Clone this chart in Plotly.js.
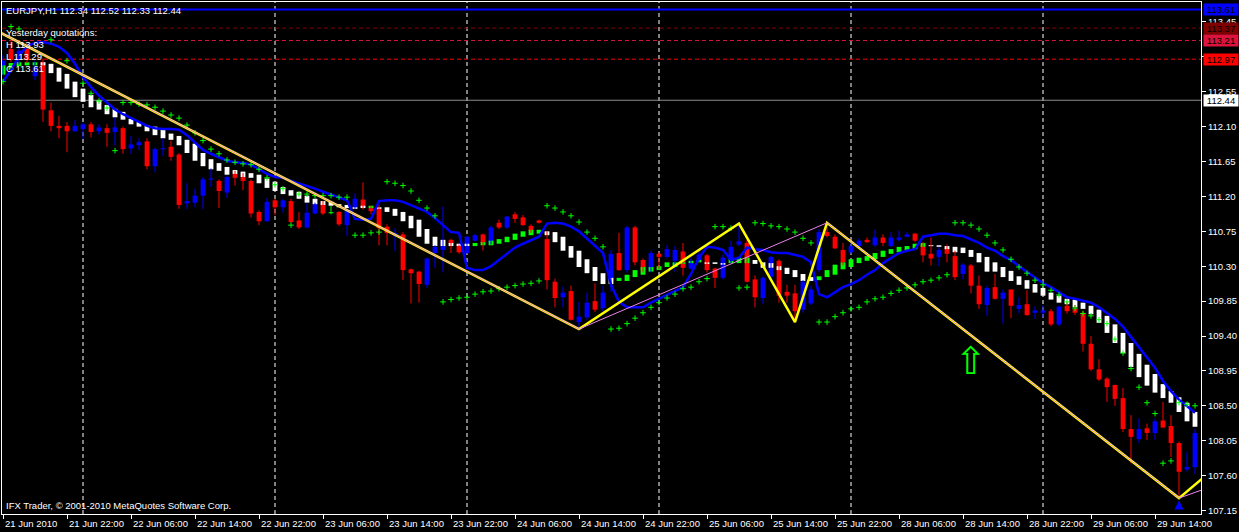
<!DOCTYPE html>
<html><head><meta charset="utf-8">
<script src="https://cdn.plot.ly/plotly-3.0.1.min.js"></script>
<style>html,body{margin:0;padding:0;background:#000;}#chart{width:1239px;height:532px;}</style>
</head><body><div id="chart"></div>
<script>
// ---- time axis (bar index -> label) ----
const timeLabels = ['21 Jun 2010','21 Jun 22:00','22 Jun 06:00','22 Jun 14:00','22 Jun 22:00','23 Jun 06:00','23 Jun 14:00','23 Jun 22:00','24 Jun 06:00','24 Jun 14:00','24 Jun 22:00','25 Jun 06:00','25 Jun 14:00','25 Jun 22:00','28 Jun 06:00','28 Jun 14:00','28 Jun 22:00','29 Jun 06:00','29 Jun 14:00'];
const timeLabelIdx = [0,8,16,24,32,40,48,56,64,72,80,88,96,104,112,120,128,136,144];
const dayGridIdx = [10,34,58,82,106,130];
const yTickVals = [107.15,107.60,108.05,108.50,108.95,109.40,109.85,110.30,110.75,111.20,111.65,112.10,112.55,113.00,113.45];
const yTickHidden = [113.00]; // covered by the 112.97 price tag in the original

// ---- EURJPY H1 candles ----
const open = [112.82,113.10,112.96,113.10,112.75,112.93,112.31,112.11,112.11,112.04,
112.07,112.13,112.04,112.08,112.03,112.08,111.82,111.86,111.91,111.59,
111.81,111.84,111.74,111.11,111.12,111.21,111.42,111.40,111.25,111.49,
111.45,111.40,111.00,110.88,111.15,111.06,111.14,110.89,110.80,110.98,
111.11,110.99,111.00,110.83,111.05,111.16,111.05,111.05,110.81,110.70,
110.71,110.26,110.23,110.06,110.47,110.51,110.64,110.57,110.47,110.63,
110.71,110.60,110.86,110.80,110.97,110.93,110.82,110.89,110.65,110.10,
109.90,109.98,109.58,109.64,109.85,109.76,110.12,110.47,110.25,110.80,
110.38,110.25,110.46,110.42,110.37,110.49,110.27,110.36,110.44,110.27,
110.15,110.38,110.58,110.60,110.13,109.89,110.16,110.37,109.97,109.95,
109.74,109.82,110.25,110.74,110.68,110.51,110.48,110.56,110.64,110.57,
110.67,110.56,110.64,110.68,110.72,110.57,110.46,110.42,110.53,110.43,
110.20,110.31,110.05,109.80,110.03,109.88,110.00,109.75,109.81,109.70,
109.70,109.72,109.55,109.79,109.75,109.70,109.30,108.97,108.85,108.77,
108.60,108.20,108.07,108.21,108.15,108.31,108.24,108.02,107.68,107.71];
const high = [113.02,113.20,113.15,113.16,112.95,112.98,112.41,112.24,112.16,112.19,
112.15,112.16,112.13,112.13,112.22,112.10,111.98,111.95,111.95,111.83,
111.95,111.92,111.76,111.37,111.30,111.45,111.56,111.42,111.47,111.53,
111.50,111.42,111.02,111.18,111.17,111.17,111.17,111.00,111.11,111.12,
111.14,111.08,111.01,111.05,111.24,111.38,111.08,111.09,110.84,110.79,
110.74,110.27,110.24,110.41,110.57,111.07,110.65,110.58,110.69,110.72,
110.72,110.82,110.90,110.95,111.00,110.96,110.84,110.90,110.75,110.14,
110.04,110.05,109.84,109.96,110.08,110.05,110.51,110.73,110.82,110.82,
110.40,110.50,110.48,110.57,110.56,110.60,110.42,110.50,110.46,110.28,
110.45,110.63,110.85,110.64,110.18,110.17,110.43,110.39,110.06,110.06,
110.12,110.05,110.78,110.85,110.71,110.60,110.60,110.66,110.67,110.77,
110.71,110.74,110.76,110.74,110.73,110.61,110.67,110.55,110.58,110.50,
110.34,110.33,110.18,110.05,110.20,110.00,110.00,109.90,109.99,109.78,
109.80,109.75,109.79,109.85,109.80,109.72,109.40,109.10,108.87,108.77,
108.73,108.38,108.34,108.27,108.34,108.55,108.38,108.04,107.90,108.20];
const low = [112.76,112.93,112.90,112.92,112.70,112.16,112.04,111.95,111.77,112.03,
111.94,111.96,112.00,111.84,111.86,111.75,111.75,111.80,111.55,111.51,
111.72,111.66,111.04,111.04,111.06,111.04,111.32,111.05,111.18,111.34,
111.28,110.93,110.83,110.87,110.96,110.99,110.86,110.78,110.79,110.97,
110.96,110.97,110.82,110.69,111.04,111.03,110.97,110.57,110.57,110.50,
110.12,109.82,109.83,110.02,110.28,110.22,110.47,110.46,110.46,110.62,
110.50,110.58,110.78,110.78,110.86,110.82,110.73,110.85,110.00,109.77,
109.77,109.60,109.49,109.61,109.71,109.72,109.97,110.24,110.22,110.31,
110.22,110.22,110.26,110.40,110.23,110.18,110.26,110.35,110.22,110.02,
110.13,110.34,110.56,110.09,109.77,109.81,110.13,109.83,109.83,109.58,
109.70,109.80,110.22,110.67,110.52,110.31,110.46,110.54,110.60,110.55,
110.56,110.55,110.62,110.67,110.61,110.35,110.31,110.30,110.35,110.12,
110.13,109.95,109.75,109.66,109.87,109.56,109.63,109.69,109.66,109.62,
109.64,109.53,109.53,109.69,109.67,109.20,108.95,108.82,108.55,108.50,
108.16,107.76,108.02,108.06,108.06,108.22,107.84,107.31,107.65,107.62];
const close = [112.95,112.96,113.08,112.96,112.87,112.32,112.11,112.08,112.04,112.11,
112.13,112.03,112.09,112.02,112.09,111.81,111.87,111.90,111.59,111.81,
111.82,111.71,111.09,111.14,111.21,111.42,111.43,111.27,111.45,111.44,
111.40,110.98,110.88,111.13,111.06,111.15,110.87,110.80,110.99,111.10,
110.98,110.99,110.84,111.03,111.17,111.06,111.01,110.79,110.73,110.73,
110.25,110.21,110.07,110.40,110.55,110.64,110.59,110.48,110.68,110.70,
110.60,110.80,110.80,110.94,110.91,110.83,110.76,110.86,110.12,109.89,
109.96,109.61,109.65,109.83,109.74,109.96,110.46,110.25,110.80,110.35,
110.25,110.47,110.42,110.52,110.51,110.28,110.37,110.45,110.25,110.15,
110.41,110.55,110.62,110.10,109.90,110.15,110.42,109.92,109.92,109.72,
110.10,110.00,110.74,110.69,110.53,110.35,110.56,110.63,110.61,110.67,
110.60,110.67,110.67,110.71,110.63,110.44,110.40,110.51,110.46,110.16,
110.32,110.05,109.81,110.02,109.88,109.96,109.79,109.80,109.67,109.73,
109.73,109.55,109.78,109.72,109.70,109.30,108.97,108.84,108.74,108.59,
108.20,108.10,108.20,108.15,108.30,108.22,108.02,107.65,107.71,108.15];

// ---- smoothed Heiken-Ashi boxes ----
const haOpen = [112.77,112.83,112.88,112.89,112.89,112.93,112.91,112.86,112.78,112.68,
112.59,112.51,112.44,112.38,112.33,112.29,112.20,112.16,112.12,112.10,
112.06,112.01,111.98,111.93,111.88,111.76,111.68,111.63,111.58,111.54,
111.52,111.50,111.48,111.43,111.39,111.32,111.28,111.26,111.21,111.17,
111.14,111.13,111.10,111.09,111.06,111.08,111.05,111.06,111.06,111.04,
111.00,110.95,110.90,110.78,110.68,110.64,110.60,110.59,110.59,110.56,
110.57,110.57,110.59,110.61,110.64,110.68,110.70,110.72,110.75,110.74,
110.68,110.56,110.50,110.39,110.29,110.21,110.15,110.11,110.11,110.16,
110.19,110.23,110.25,110.29,110.29,110.33,110.34,110.35,110.35,110.35,
110.34,110.34,110.34,110.34,110.38,110.35,110.34,110.30,110.28,110.25,
110.20,110.16,110.12,110.16,110.19,110.26,110.29,110.34,110.37,110.39,
110.42,110.46,110.48,110.50,110.52,110.55,110.57,110.57,110.56,110.55,
110.54,110.51,110.47,110.42,110.35,110.29,110.24,110.17,110.12,110.07,
110.02,109.96,109.92,109.88,109.87,109.83,109.79,109.74,109.66,109.55,
109.44,109.31,109.17,109.03,108.91,108.78,108.69,108.61,108.54,108.42];
const haClose = [112.89,112.92,112.93,112.93,112.93,112.89,112.79,112.68,112.59,112.48,
112.42,112.35,112.32,112.26,112.22,112.19,112.13,112.10,112.04,111.99,
111.95,111.93,111.86,111.76,111.66,111.59,111.55,111.53,111.48,111.49,
111.45,111.44,111.37,111.31,111.27,111.23,111.21,111.17,111.12,111.10,
111.09,111.08,111.06,111.05,111.04,111.05,111.08,111.04,111.00,110.95,
110.88,110.79,110.68,110.59,110.56,110.56,110.56,110.56,110.56,110.60,
110.61,110.63,110.65,110.68,110.72,110.75,110.77,110.77,110.70,110.61,
110.50,110.41,110.29,110.21,110.11,110.07,110.07,110.15,110.19,110.25,
110.29,110.29,110.30,110.35,110.35,110.35,110.37,110.38,110.33,110.33,
110.32,110.39,110.41,110.41,110.33,110.28,110.28,110.25,110.20,110.16,
110.11,110.11,110.17,110.25,110.32,110.35,110.39,110.41,110.43,110.47,
110.50,110.52,110.55,110.56,110.59,110.60,110.56,110.55,110.52,110.48,
110.47,110.42,110.35,110.23,110.23,110.16,110.11,110.06,110.01,109.96,
109.92,109.87,109.83,109.81,109.77,109.75,109.68,109.57,109.44,109.31,
109.18,109.00,108.87,108.76,108.67,108.60,108.54,108.42,108.30,108.23];

// ---- blue channel line ----
const channelLine = [112.68,112.83,113.01,113.14,113.18,113.19,113.17,113.13,113.05,112.91,
112.74,112.61,112.50,112.41,112.32,112.26,112.21,112.16,112.11,112.08,
112.07,112.07,112.06,111.99,111.90,111.80,111.75,111.70,111.66,111.64,
111.63,111.61,111.55,111.49,111.45,111.44,111.40,111.37,111.34,111.30,
111.26,111.22,111.18,111.15,110.91,110.90,110.91,111.14,111.15,111.15,
111.13,111.09,111.05,111.00,110.92,110.83,110.74,110.73,110.28,110.25,
110.25,110.30,110.38,110.47,110.54,110.59,110.64,110.68,110.85,110.86,
110.85,110.81,110.75,110.66,110.57,110.47,110.06,109.84,109.77,109.77,
109.77,109.83,109.88,109.93,109.97,110.03,110.20,110.41,110.55,110.54,
110.51,110.38,110.41,110.54,110.52,110.51,110.48,110.47,110.47,110.44,
110.42,110.35,109.94,109.90,109.97,110.03,110.07,110.12,110.19,110.25,
110.34,110.41,110.47,110.50,110.52,110.68,110.70,110.72,110.72,110.70,
110.69,110.65,110.60,110.54,110.50,110.43,110.38,110.30,110.23,110.15,
110.08,110.03,109.96,109.90,109.88,109.85,109.83,109.77,109.70,109.62,
109.52,109.39,109.26,109.12,108.99,108.82,108.69,108.58,108.49,108.41];

// ---- parabolic SAR dots ----
const sar = [112.68,113.39,113.36,null,null,null,113.22,null,112.95,null,
112.66,112.53,112.43,112.34,111.79,112.41,112.41,112.39,112.38,112.35,
112.30,112.25,112.21,112.12,112.02,111.92,111.81,111.75,111.67,111.64,
111.62,111.61,111.55,111.44,111.35,111.30,110.83,111.23,111.23,111.21,
111.21,111.21,111.19,111.19,110.70,110.70,110.73,110.74,111.39,111.37,
111.34,111.27,111.15,111.05,110.95,109.84,109.87,109.89,109.90,109.94,
109.97,109.98,110.01,110.03,110.05,110.07,110.08,110.11,111.08,111.05,
111.00,110.95,110.87,110.74,110.66,110.55,109.49,109.50,109.56,109.63,
109.70,109.77,109.83,109.89,109.94,110.01,110.03,110.10,110.14,110.81,
110.81,110.79,110.02,110.03,110.86,110.85,110.82,110.81,110.78,110.74,
110.66,110.60,109.58,109.58,109.65,109.70,109.75,109.77,109.84,109.88,
109.90,109.95,109.99,110.02,110.06,110.10,110.12,110.15,110.19,110.86,
110.86,110.83,110.78,110.70,110.60,110.51,110.39,110.29,110.21,110.12,
110.06,109.99,109.93,109.84,109.76,109.69,109.66,109.61,109.56,109.36,
109.18,108.98,108.74,108.54,108.40,107.76,107.79,108.54,108.52,108.50];

// ---- zigzag lines ----
const zigzagIdx = [-2,72,92,99,103,147,150];
const zigzagVal = [113.40,109.49,110.85,109.58,110.86,107.31,107.57];
const zigzag2Idx = [-2,72,103,147,150];
const zigzag2Val = [113.40,109.49,110.86,107.31,107.42];

// ---- markers ----
const signalArrowIdx = [121];
const signalArrowVal = [109.03];
const lowMarkIdx = [147];
const lowMarkVal = [107.28];

// ---- horizontal levels ----
const levelVals = [113.61,113.37,113.21,112.97,112.44];
const levelText = ['113.61','113.37','113.21','112.97','112.44'];
const infoLines = ['EURJPY,H1 112.34 112.52 112.33 112.44','Yesterday quotations:','H 113.93','L 113.29','C 113.61'];
const copyright = 'IFX Trader, \u00a9 2001-2010 MetaQuotes Software Corp.';

// ================= drawing =================
const FONT = 'Liberation Sans, Arial, sans-serif';
const BODYW = 0.6, MINH = 0.013;
const idx = open.map((_, i) => i);

function wickTrace(sel, color) {
  const x = [], y = [];
  idx.filter(sel).forEach(i => { x.push(i, i, null); y.push(low[i], high[i], null); });
  return {type:'scatter', mode:'lines', x, y, line:{color, width:1}, hoverinfo:'skip'};
}
function bodyTrace(sel, o, c, color) {
  const ii = idx.filter(sel);
  return {type:'bar', x: ii,
    base: ii.map(i => Math.abs(c[i]-o[i]) < MINH ? (o[i]+c[i])/2 - MINH/2 : Math.min(o[i], c[i])),
    y: ii.map(i => Math.max(Math.abs(c[i]-o[i]), MINH)),
    width: BODYW, marker:{color, line:{width:0}}, hoverinfo:'skip'};
}
const isBull = i => close[i] > open[i], isBear = i => close[i] < open[i], isDoji = i => close[i] === open[i];

const traces = [
  wickTrace(isBull, '#0000FF'), wickTrace(isBear, '#FF0000'), wickTrace(isDoji, '#00FF00'),
  bodyTrace(isBull, open, close, '#0000FF'), bodyTrace(isBear, open, close, '#FF0000'), bodyTrace(isDoji, open, close, '#00FF00'),
  bodyTrace(i => haClose[i] < haOpen[i], haOpen, haClose, '#FFFFFF'),
  bodyTrace(i => haClose[i] >= haOpen[i], haOpen, haClose, '#00FF00'),
  {type:'scatter', mode:'lines', x: idx, y: channelLine, line:{color:'#0000FF', width:2.5}, hoverinfo:'skip'},
  {type:'scatter', mode:'markers', x: idx, y: sar, marker:{symbol:'cross-thin', size:4, color:'#00FF00', line:{color:'#00FF00', width:1}}, hoverinfo:'skip'},
  {type:'scatter', mode:'lines', x: zigzagIdx, y: zigzagVal, line:{color:'#FFFF00', width:2.5}, hoverinfo:'skip'},
  {type:'scatter', mode:'lines', x: zigzag2Idx, y: zigzag2Val, line:{color:'#EE82EE', width:1}, hoverinfo:'skip'},
  {type:'scatter', mode:'markers', x: lowMarkIdx, y: lowMarkVal, marker:{symbol:'arrow-up', size:9, color:'#0000FF'}, hoverinfo:'skip'},
  {type:'scatter', mode:'text', x: signalArrowIdx, y: signalArrowVal, text:['\u21E7'], textposition:'middle center',
   textfont:{family:'DejaVu Sans', size:38, color:'#00FF00'}, cliponaxis:false, hoverinfo:'skip'}
];

const levelStyle = [
  {line:'#0000FF', dash:'solid', w:2, bg:'#0000FF', fg:'#000000'},
  {line:'#800000', dash:'4px,3px', w:1, bg:'#800000', fg:'#000000'},
  {line:'#DC143C', dash:'4px,3px', w:1, bg:'#DC143C', fg:'#000000'},
  {line:'#FF0000', dash:'4px,3px', w:1, bg:'#FF0000', fg:'#000000'},
  {line:'#8C8C8C', dash:'solid', w:1, bg:'#FFFFFF', fg:'#000000'}
];

const shapes = [];
dayGridIdx.forEach(g => shapes.push({type:'line', xref:'x', yref:'paper', x0:g, x1:g, y0:0, y1:1, layer:'below',
  line:{color:'#FFFFFF', width:1, dash:'4px,3px'}}));
levelVals.forEach((v, k) => shapes.push({type:'line', xref:'paper', yref:'y', x0:0, x1:1, y0:v, y1:v, layer:'below',
  line:{color:levelStyle[k].line, width:levelStyle[k].w, dash:levelStyle[k].dash}}));

const annotations = [];
timeLabels.forEach((t, k) => annotations.push({x: timeLabelIdx[k], xref:'x', y:0, yref:'paper', xanchor:'left', yanchor:'top',
  xshift:0, yshift:-2, text:t, showarrow:false, font:{family:FONT, size:9.5, color:'#FFFFFF'}}));
levelVals.forEach((v, k) => annotations.push({x:1, xref:'paper', y:v, yref:'y', xanchor:'left', yanchor:'middle', xshift:2,
  text:levelText[k], showarrow:false, bgcolor:levelStyle[k].bg, width:34, height:11, borderpad:0,
  font:{family:FONT, size:9.5, color:levelStyle[k].fg}}));
const infoShift = [-1, -23, -35, -47, -59];
infoLines.forEach((t, k) => annotations.push({x:0, xref:'paper', y:1, yref:'paper', xanchor:'left', yanchor:'top',
  xshift:2, yshift:infoShift[k], text:t, showarrow:false, font:{family:FONT, size:9.5, color:'#FFFFFF'}}));
annotations.push({x:0, xref:'paper', y:0, yref:'paper', xanchor:'left', yanchor:'bottom', xshift:2, yshift:1,
  text:copyright, showarrow:false, font:{family:FONT, size:9.5, color:'#FFFFFF'}});

const layout = {
  width:1239, height:532, margin:{l:2, r:38, t:2, b:18, pad:0},
  paper_bgcolor:'#000000', plot_bgcolor:'#000000', showlegend:false, hovermode:false, barmode:'overlay',
  font:{family:FONT, size:9.5, color:'#FFFFFF'},
  xaxis:{range:[-0.125, 149.75], showgrid:false, zeroline:false, showline:true, linecolor:'#FFFFFF', linewidth:1, mirror:true,
    ticks:'outside', ticklen:4, tickcolor:'#FFFFFF', tickmode:'array', tickvals:timeLabelIdx, showticklabels:false, fixedrange:true},
  yaxis:{range:[107.105, 113.707], side:'right', showgrid:false, zeroline:false, showline:true, linecolor:'#FFFFFF', linewidth:1, mirror:true,
    ticks:'outside', ticklen:4, tickcolor:'#FFFFFF', tickmode:'array', tickvals:yTickVals,
    ticktext:yTickVals.map(v => yTickHidden.includes(v) ? '' : v.toFixed(2)),
    tickfont:{family:FONT, size:9.5, color:'#FFFFFF'}, fixedrange:true},
  shapes, annotations
};
Plotly.newPlot('chart', traces, layout, {staticPlot:true, displayModeBar:false});
</script></body></html>
